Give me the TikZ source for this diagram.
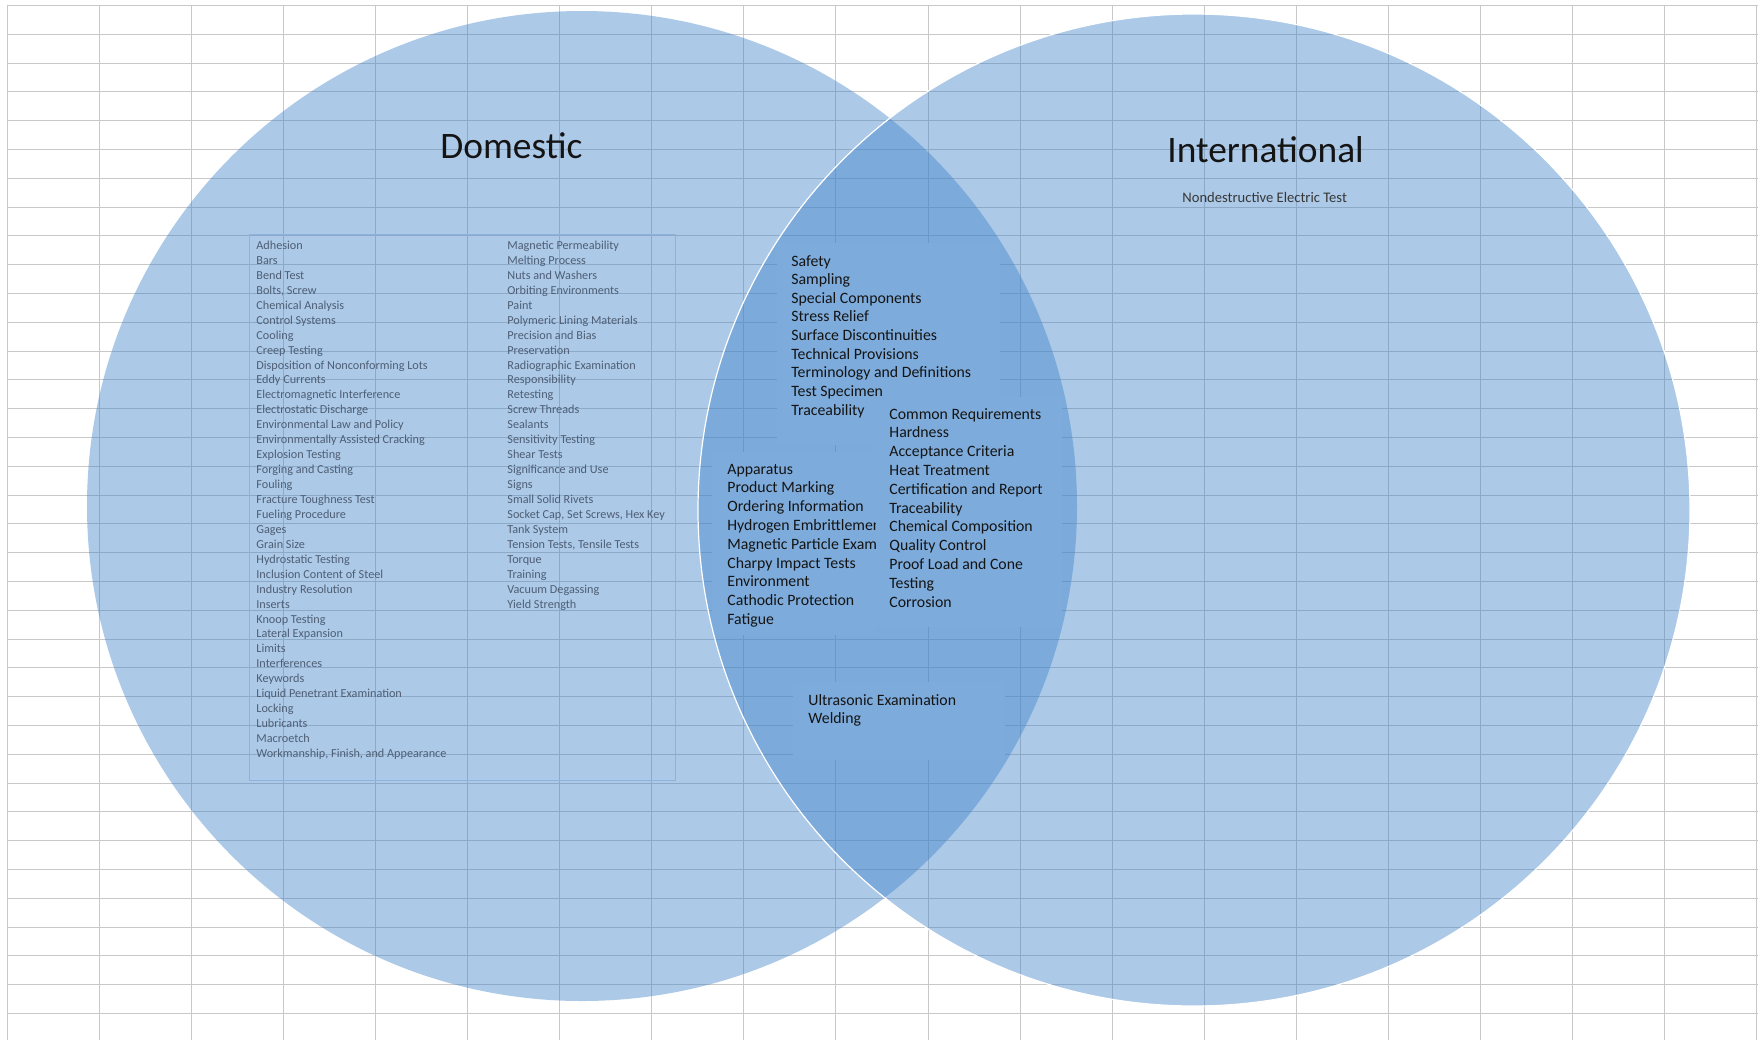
\documentclass[tikz,border=0pt]{standalone}
\usepackage{fontspec}
\setmainfont{Carlito}
\definecolor{gridgrey}{RGB}{200,200,200}
\definecolor{vennblue}{RGB}{63,131,201}
\definecolor{lensblue}{RGB}{125,171,219}
\definecolor{listgrey}{RGB}{78,94,116}
\definecolor{frameblue}{RGB}{140,178,222}
\definecolor{inkblack}{RGB}{20,20,20}
\begin{document}
\begin{tikzpicture}[x=0.5pt,y=-0.5pt,
  gridline/.style={draw=gridgrey,line width=0.8pt},
  setdisc/.style={fill=vennblue,fill opacity=0.43},
  titletext/.style={anchor=base west,inner sep=0pt,text=inkblack,font=\fontsize{18.7}{22}\selectfont},
  subtext/.style={anchor=base west,inner sep=0pt,text=inkblack!85,font=\fontsize{7.3}{9}\selectfont},
  listtext/.style={anchor=base west,inner sep=0pt,text=listgrey,font=\fontsize{6.1}{7.5}\selectfont},
  lenstext/.style={anchor=base west,inner sep=0pt,text=inkblack,font=\fontsize{7.9}{9.5}\selectfont}]
\useasboundingbox (0,0) rectangle (1758,1040);
\fill[white] (0,0) rectangle (1758,1040);

% worksheet grid, snapped to whole cells
\foreach \k in {0,...,19}
  \draw[gridline] ({round(7+92.05*\k)+0.5},5) -- ({round(7+92.05*\k)+0.5},1040);
\foreach \j in {0,...,35}
  \draw[gridline] (7,{round(5+28.8*\j)+0.5}) -- (1758,{round(5+28.8*\j)+0.5});

% the two sets
\fill[setdisc] (582,506) circle[radius=247.5pt];
\fill[setdisc] (1194,510) circle[radius=248pt];

% opaque text boxes inside the overlap
\begin{scope}
  \clip (582,506) circle[radius=247.5pt];
  \clip (1194,510) circle[radius=248pt];
  \fill[lensblue] (777,243) rectangle (1000,445);
  \fill[lensblue] (875,397) rectangle (1062,627);
  \fill[lensblue] (712,452) rectangle (875,635);
  \fill[lensblue] (793,682) rectangle (1005,760);
\end{scope}

% outline of the right set
\draw[white,line width=0.6pt] (1194,510) circle[radius=248pt];

% titles
\node[titletext] (domtitle) at (440,158) {Domestic};
\node[titletext] (inttitle) at (1167,162) {International};
\node[subtext] (intonly) at (1182,202) {Nondestructive Electric Test};

% domestic-only topics
\draw[frameblue,line width=0.5pt] (249.5,234.5) rectangle (675.5,780.5);
\foreach [count=\i] \itm in {Adhesion, Bars, Bend Test, {Bolts, Screw}, Chemical Analysis,
  Control Systems, Cooling, Creep Testing, Disposition of Nonconforming Lots, Eddy Currents,
  Electromagnetic Interference, Electrostatic Discharge, Environmental Law and Policy,
  Environmentally Assisted Cracking, Explosion Testing, Forging and Casting, Fouling,
  Fracture Toughness Test, Fueling Procedure, Gages, Grain Size, Hydrostatic Testing,
  Inclusion Content of Steel, Industry Resolution, Inserts, Knoop Testing, Lateral Expansion,
  Limits, Interferences, Keywords, Liquid Penetrant Examination, Locking, Lubricants,
  Macroetch, {Workmanship, Finish, and Appearance}}
  \node[listtext] (doma\i) at (256,{249.5+14.94*(\i-1)}) {\itm};
\foreach [count=\i] \itm in {Magnetic Permeability, Melting Process, Nuts and Washers,
  Orbiting Environments, Paint, Polymeric Lining Materials, Precision and Bias, Preservation,
  Radiographic Examination, Responsibility, Retesting, Screw Threads, Sealants,
  Sensitivity Testing, Shear Tests, Significance and Use, Signs, Small Solid Rivets,
  {Socket Cap, Set Screws, Hex Key}, Tank System, {Tension Tests, Tensile Tests}, Torque, Training,
  Vacuum Degassing, Yield Strength}
  \node[listtext] (domb\i) at (507,{249.5+14.94*(\i-1)}) {\itm};

% shared topics
\foreach [count=\i] \itm in {Safety, Sampling, Special Components, Stress Relief,
  Surface Discontinuities, Technical Provisions, Terminology and Definitions,
  Test Specimen, Traceability}
  \node[lenstext] (sha\i) at (791,{266+18.66*(\i-1)}) {\itm};
\foreach [count=\i] \itm in {Common Requirements, Hardness, Acceptance Criteria,
  Heat Treatment, Certification and Report, Traceability, Chemical Composition,
  Quality Control, Proof Load and Cone, Testing, Corrosion}
  \node[lenstext] (shb\i) at (889,{419+18.8*(\i-1)}) {\itm};
% this text box is narrower than two of its lines, which it cuts off
\begin{scope}
  \clip (700,440) rectangle (875,640);
  \foreach [count=\i] \itm in {Apparatus, Product Marking, Ordering Information,
    Hydrogen Embrittlemen, Magnetic Particle Exami, Charpy Impact Tests,
    Environment, Cathodic Protection, Fatigue}
    \node[lenstext] (shc\i) at (727,{474+18.8*(\i-1)}) {\itm};
\end{scope}
\node[lenstext] (shd1) at (808,705) {Ultrasonic Examination};
\node[lenstext] (shd2) at (808,723) {Welding};
\end{tikzpicture}
\end{document}
